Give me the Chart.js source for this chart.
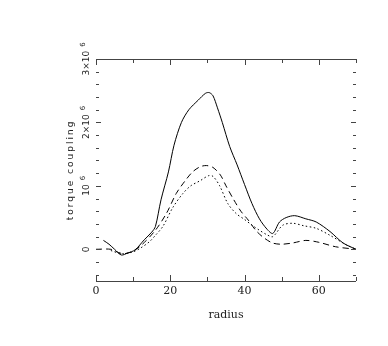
<!DOCTYPE html>
<html>
<head>
<meta charset="utf-8">
<script src="https://cdn.jsdelivr.net/npm/chart.js@4.4.1/dist/chart.umd.min.js"></script>
<style>
  html, body { margin: 0; padding: 0; background: #fff; }
  canvas { display: block; }
</style>
</head>
<body>
<canvas id="torqueChart" width="388" height="346"></canvas>
<script>
// torque values are in units of 10^6
const radiusSolid = [2, 3.5, 5, 6.8, 8.5, 10.5, 13, 15, 16, 17.5, 19.5, 21, 23, 25, 27.5, 29.5, 30.5, 31.5, 32.7, 34, 36, 38, 40, 42, 44, 46, 47.6, 49.4, 51.2, 53.5, 56.5, 59.3, 63, 66.5, 70];
const torqueSolid = [0.14, 0.08, 0.0, -0.09, -0.06, -0.01, 0.15, 0.27, 0.36, 0.78, 1.22, 1.64, 2.0, 2.2, 2.35, 2.46, 2.47, 2.42, 2.23, 2.0, 1.62, 1.33, 1.02, 0.72, 0.48, 0.32, 0.25, 0.43, 0.5, 0.53, 0.48, 0.43, 0.28, 0.1, 0.0];

const radiusDashed = [0, 4, 6, 7.5, 10, 12.5, 16, 19, 21.6, 24, 26, 28, 29.7, 31.5, 33.5, 35, 37, 39, 41, 43, 45, 47.5, 50, 53, 56.5, 60, 64.5, 70];
const torqueDashed = [0, 0, -0.05, -0.07, -0.03, 0.08, 0.3, 0.57, 0.88, 1.08, 1.22, 1.3, 1.32, 1.29, 1.17, 1.0, 0.79, 0.6, 0.46, 0.3, 0.19, 0.1, 0.08, 0.1, 0.14, 0.11, 0.04, 0.0];

const radiusDotted = [4, 7, 10, 12, 14.4, 16, 18, 20.7, 23.4, 25.5, 28, 30.3, 31.5, 33.3, 35.5, 37.8, 40, 42, 44, 46, 47.6, 50.3, 53, 56, 59.3, 63, 67.4, 70];
const torqueDotted = [-0.02, -0.07, -0.04, 0.02, 0.12, 0.22, 0.36, 0.66, 0.88, 1.0, 1.08, 1.16, 1.15, 1.0, 0.72, 0.56, 0.47, 0.38, 0.3, 0.23, 0.2, 0.38, 0.41, 0.37, 0.33, 0.22, 0.07, 0.0];

const yTickValues = [0, 1, 2, 3];
const yTickMain = ['0', '10', '2\u00d710', '3\u00d710'];
const yTickExp = ['', '6', '6', '6'];

const toPoints = (xs, ys) => xs.map((x, i) => ({ x: x, y: ys[i] }));

// frame lines, inner ticks and the rotated y labels
const framePlugin = {
    id: 'frame',
    afterDraw(chart) {
        const ctx = chart.ctx;
        const xs = chart.scales.x;
        const ys = chart.scales.y;
        const { left, right, top, bottom } = chart.chartArea;

        ctx.save();
        ctx.strokeStyle = '#444';
        ctx.lineWidth = 1;
        ctx.beginPath();
        ctx.moveTo(left, Math.round(top) + 0.5);
        ctx.lineTo(right, Math.round(top) + 0.5);
        ctx.moveTo(left, Math.round(bottom) + 0.5);
        ctx.lineTo(right, Math.round(bottom) + 0.5);

        for (let v = 0; v <= 70; v += 10) {
            const px = Math.round(xs.getPixelForValue(v)) + 0.5;
            const len = v % 20 === 0 ? 6 : 4;
            ctx.moveTo(px, top);
            ctx.lineTo(px, top + len);
            ctx.moveTo(px, bottom);
            ctx.lineTo(px, bottom - len);
        }
        for (let k = -2; k <= 15; k++) {
            const v = k * 0.2;
            const py = Math.round(ys.getPixelForValue(v)) + 0.5;
            const len = k % 5 === 0 ? 5 : 3;
            ctx.moveTo(left, py);
            ctx.lineTo(left + len, py);
            ctx.moveTo(right, py);
            ctx.lineTo(right - len, py);
        }
        ctx.stroke();

        ctx.fillStyle = '#222';
        ctx.textBaseline = 'middle';
        yTickValues.forEach((v, i) => {
            const py = ys.getPixelForValue(v);
            ctx.save();
            ctx.translate(87, py);
            ctx.rotate(-Math.PI / 2);
            ctx.font = '9px "DejaVu Sans"';
            const mw = ctx.measureText(yTickMain[i]).width;
            ctx.font = '7px "DejaVu Sans"';
            const ew = yTickExp[i] ? ctx.measureText(yTickExp[i]).width + 4 : 0;
            const start = -(mw + ew) / 2;
            ctx.textAlign = 'left';
            ctx.font = '9px "DejaVu Sans"';
            ctx.fillText(yTickMain[i], start, 0);
            if (yTickExp[i]) {
                ctx.font = '7px "DejaVu Sans"';
                ctx.fillText(yTickExp[i], start + mw + 4, -4);
            }
            ctx.restore();
        });

        ctx.save();
        ctx.translate(71, (top + bottom) / 2);
        ctx.rotate(-Math.PI / 2);
        ctx.font = '9px "DejaVu Sans"';
        ctx.letterSpacing = '2px';
        ctx.textAlign = 'center';
        ctx.fillText('torque coupling', 0, 0);
        ctx.restore();

        ctx.restore();
    }
};

new Chart(document.getElementById('torqueChart'), {
    type: 'scatter',
    data: {
        datasets: [
            {
                label: 'total',
                data: toPoints(radiusSolid, torqueSolid),
                borderColor: '#000',
                borderWidth: 1,
                showLine: true,
                tension: 0.3
            },
            {
                label: 'dashed',
                data: toPoints(radiusDashed, torqueDashed),
                borderColor: '#000',
                borderWidth: 1,
                borderDash: [6, 4],
                showLine: true,
                tension: 0.3
            },
            {
                label: 'dotted',
                data: toPoints(radiusDotted, torqueDotted),
                borderColor: '#000',
                borderWidth: 1,
                borderDash: [1.5, 2.5],
                showLine: true,
                tension: 0.3
            }
        ]
    },
    options: {
        responsive: false,
        animation: false,
        elements: { point: { radius: 0, hoverRadius: 0 } },
        layout: { padding: { left: 0, top: 59, right: 32, bottom: 0 } },
        plugins: {
            legend: { display: false },
            tooltip: { enabled: false }
        },
        scales: {
            x: {
                type: 'linear',
                min: 0,
                max: 70,
                grid: { display: false, drawTicks: false },
                border: { display: false },
                ticks: {
                    stepSize: 20,
                    includeBounds: false,
                    padding: 4,
                    color: '#222',
                    font: { family: 'DejaVu Serif', size: 11 },
                    maxRotation: 0
                },
                title: {
                    display: true,
                    text: 'radius',
                    color: '#222',
                    font: { family: 'DejaVu Serif', size: 11 },
                    padding: { top: 0, bottom: 24 }
                },
                afterFit(scale) { scale.height = 65; }
            },
            y: {
                type: 'linear',
                min: -0.5,
                max: 3,
                grid: { display: false, drawTicks: false },
                border: { display: false },
                ticks: { display: false },
                afterFit(scale) { scale.width = 96; }
            }
        }
    },
    plugins: [framePlugin]
});
</script>
</body>
</html>
